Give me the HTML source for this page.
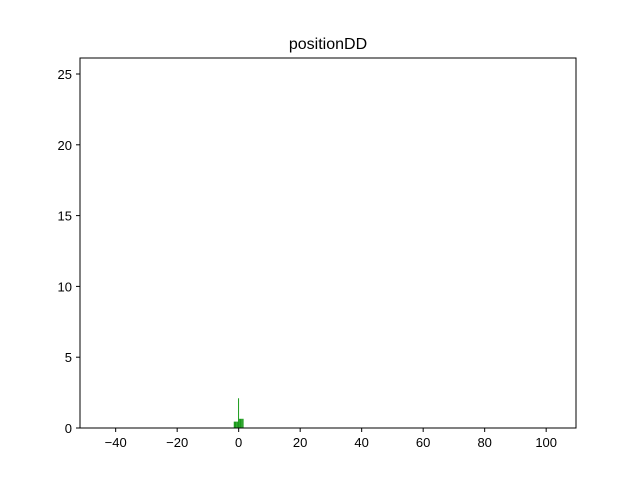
<!DOCTYPE html>
<html><head><meta charset="utf-8"><style>body{margin:0;background:#fff}svg{font-family:"Liberation Sans",sans-serif}</style></head>
<body>
<svg width="640" height="480">
<rect width="640" height="480" fill="#fff"/>
<text x="328" y="49" font-size="16" text-anchor="middle">positionDD</text>
<g id="bars"></g>
<rect x="80" y="58" width="496" height="370" fill="none" stroke="#000" stroke-width="1"/>
<g id="xt"></g><g id="yt"></g>
</svg>
<script>
const binStarts=[-1.6,-1.2,-0.8,-0.4,-0.2,0,0.4,0.8,1.2];
const binWidths=[0.4,0.4,0.4,0.2,0.15,0.4,0.4,0.4,0.4];
const counts=[0.45,0.45,0.45,0.45,2.1,0.65,0.65,0.65,0.65];
const xTicks=[-40,-20,0,20,40,60,80,100];
const yTicks=[0,5,10,15,20,25];
const X=v=>80+(v+51.6)*(496/161.3);
const Y=v=>428-v*14.16;
const ns="http://www.w3.org/2000/svg";
const bars=document.getElementById('bars');
counts.forEach((c,i)=>{const r=document.createElementNS(ns,'rect');
r.setAttribute('x',X(binStarts[i]));r.setAttribute('width',Math.max(1,X(binStarts[i]+binWidths[i])-X(binStarts[i])));
r.setAttribute('y',Y(c));r.setAttribute('height',428-Y(c));r.setAttribute('fill','#1a9a1a');


bars.appendChild(r);});
const xt=document.getElementById('xt');
xTicks.forEach(t=>{const x=X(t);
const l=document.createElementNS(ns,'line');l.setAttribute('x1',x);l.setAttribute('x2',x);l.setAttribute('y1',428);l.setAttribute('y2',432);l.setAttribute('stroke','#000');xt.appendChild(l);
const s=document.createElementNS(ns,'text');s.setAttribute('x',x);s.setAttribute('y',447);s.setAttribute('font-size','13');s.setAttribute('text-anchor','middle');s.textContent=t<0?'\u2212'+(-t):t;


xt.appendChild(s);});
const yt=document.getElementById('yt');
yTicks.forEach(t=>{const y=Y(t);
const l=document.createElementNS(ns,'line');l.setAttribute('x1',76);l.setAttribute('x2',80);l.setAttribute('y1',y);l.setAttribute('y2',y);l.setAttribute('stroke','#000');yt.appendChild(l);
const s=document.createElementNS(ns,'text');s.setAttribute('x',72);s.setAttribute('y',y+5);s.setAttribute('font-size','13');s.setAttribute('text-anchor','end');s.textContent=t;


yt.appendChild(s);});
</script>
</body></html>
